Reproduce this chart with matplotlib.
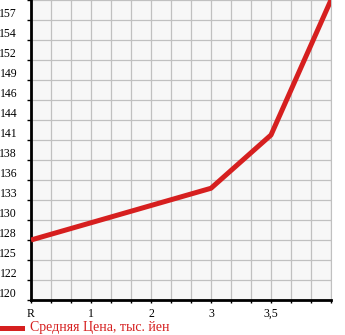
import matplotlib
matplotlib.use("Agg")
import matplotlib.pyplot as plt

# ====== Data ======
x_pos = [0, 3, 6, 9, 12, 15]
prices = [128.0, 130.3, 132.6, 134.9, 142.0, 160.0]

x_tick_pos = list(range(16))
x_tick_labels = ["R", "", "", "1", "", "", "2", "", "", "3", "", "", "3,5", "", "", ""]

y_step = 8 / 3
y_tick_pos = [120 + i * y_step for i in range(16)]
y_tick_labels = [str(int(v + 1e-6)) for v in y_tick_pos]
y_tick_labels[-1] = ""

legend_label = "Средняя Цена, тыс. йен"
red = "#d61f1f"

# ====== Plot ======
W, H = 345, 335
fig = plt.figure(figsize=(W / 100, H / 100), dpi=100)
ax = fig.add_axes([31 / W, 35 / H, 300 / W, 300 / H])
ax.set_facecolor("#f7f7f7")

ax.plot(x_pos, prices, color=red, linewidth=3.6, solid_capstyle="butt", zorder=3)

ax.set_xlim(0, 15)
ax.set_ylim(120, 160)
ax.set_xticks(x_tick_pos)
ax.set_xticklabels(x_tick_labels)
ax.set_yticks(y_tick_pos)
ax.set_yticklabels(y_tick_labels)
ax.grid(True, color="#c0c0c0", linewidth=0.9)
ax.set_axisbelow(True)

for lab in ax.get_yticklabels():
    lab.set_va("bottom")

ax.tick_params(axis="y", length=3, width=1, pad=7, labelsize=8.5)
ax.tick_params(axis="x", length=2.5, width=1, pad=3, labelsize=8.5)
for lab in ax.get_xticklabels() + ax.get_yticklabels():
    lab.set_fontfamily("Liberation Serif")

ax.spines["top"].set_visible(False)
ax.spines["right"].set_color("#c0c0c0")
ax.spines["left"].set_linewidth(2)
ax.spines["bottom"].set_linewidth(2)

# legend
fig.add_artist(plt.Line2D([0, 22 / W], [1 - 328 / H, 1 - 328 / H], color=red,
                          linewidth=3.6, transform=fig.transFigure))
fig.text(30 / W, 1 - 328 / H, legend_label, color=red, va="center", ha="left",
         fontsize=10, fontfamily="Liberation Serif")

fig.savefig("out.png", dpi=100)
